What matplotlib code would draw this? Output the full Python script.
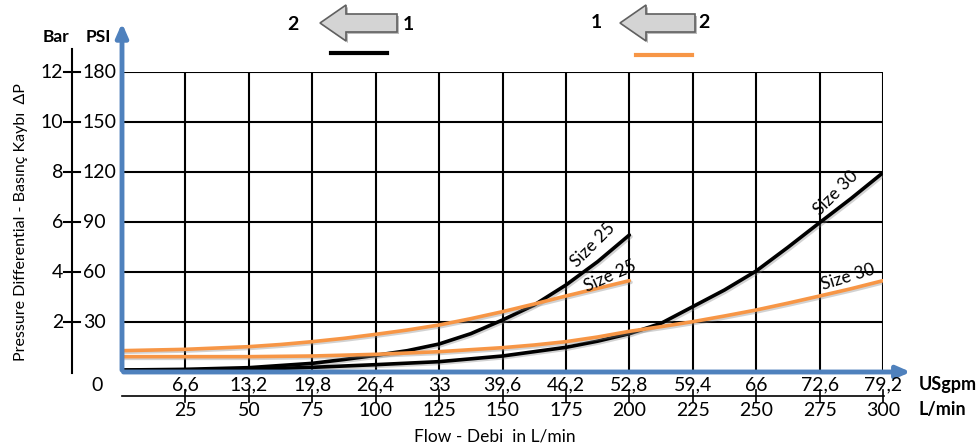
import matplotlib
matplotlib.use("Agg")
import matplotlib.pyplot as plt
import matplotlib.patheffects as pe
from matplotlib.patches import Polygon

plt.rcParams['font.family'] = ['Lato', 'DejaVu Sans']

# flow in L/min and matching US gpm labels
lpm = [25, 50, 75, 100, 125, 150, 175, 200, 225, 250, 275, 300]
gpm = ['6,6', '13,2', '19,8', '26,4', '33', '39,6', '46,2', '52,8', '59,4', '66', '72,6', '79,2']
psi_ticks = [30, 60, 90, 120, 150, 180]
bar_ticks = ['2', '4', '6', '8', '10', '12']

# curves (L/min, PSI)
blk25_x = [0, 25, 50, 75, 87.5, 100, 112.5, 125, 137.5, 150, 162.5, 175, 187.5, 200]
blk25_y = [1.2, 1.6, 2.6, 5.2, 7.5, 10, 12.8, 16.8, 23, 31.2, 40.2, 52.2, 66.2, 82.2]
blk30_x = [0, 25, 50, 75, 100, 125, 150, 175, 187.5, 200, 212.5, 225, 237.5, 250,
           262.5, 275, 287.5, 300]
blk30_y = [1.0, 1.2, 1.6, 2.8, 4.4, 6.2, 9.6, 14.8, 18.5, 23, 29.2, 39.2, 49.2, 60.6,
           74.8, 89.6, 104.2, 119.6]
org25_x = [0, 25, 50, 62.5, 75, 87.5, 100, 112.5, 125, 137.5, 150, 162.5, 175, 187.5, 200]
org25_y = [12.8, 13.6, 15.2, 16.5, 18.2, 20.2, 22.6, 25.2, 28.2, 32, 36.2, 40.8, 45.6, 50.2, 54.8]
org30_x = [0, 25, 50, 75, 100, 125, 150, 162.5, 175, 187.5, 200, 212.5, 225, 237.5, 250,
           262.5, 275, 287.5, 300]
org30_y = [9.2, 9.2, 9.2, 9.6, 10.6, 12.2, 14.6, 16.2, 18.2, 21, 24.4, 27.2, 30.2, 33.6, 37.2,
           41.3, 45.6, 50, 54.8]

BLUE = '#4f81bd'
ORANGE = '#f79646'
W, H = 979, 448

fig = plt.figure(figsize=(W / 100, H / 100), dpi=100)
ax = fig.add_axes([122 / W, 76 / H, 761 / W, 300 / H])
ax.set_xlim(0, 300)
ax.set_ylim(0, 180)
ax.axis('off')

# grid
for x in lpm:
    ax.plot([x, x], [0, 180], color='black', lw=1.5, zorder=1)
for y in psi_ticks:
    ax.plot([0, 300], [y, y], color='black', lw=1.5, zorder=1)

shadow = [pe.SimpleLineShadow(offset=(1.2, -1.2), shadow_color='gray', alpha=0.35), pe.Normal()]
for xs, ys, c in [(blk25_x, blk25_y, 'black'), (blk30_x, blk30_y, 'black'),
                  (org25_x, org25_y, ORANGE), (org30_x, org30_y, ORANGE)]:
    ax.plot(xs, ys, color=c, lw=2.6, zorder=3, solid_capstyle='round',
            solid_joinstyle='round', path_effects=shadow)

ax.text(185.7, 76.2, 'Size 25', rotation=45, fontsize=12.5, ha='center', va='center', zorder=4)
ax.text(192.4, 57.2, 'Size 25', rotation=24, fontsize=12.5, ha='center', va='center', zorder=4)
ax.text(281.5, 107.2, 'Size 30', rotation=45, fontsize=12.5, ha='center', va='center', zorder=4)
ax.text(286.3, 57.2, 'Size 30', rotation=17, fontsize=12.5, ha='center', va='center', zorder=4)

# blue axes arrows
ax.annotate('', xy=(0, 211), xytext=(0, -0.5), annotation_clip=False,
            arrowprops=dict(arrowstyle='-|>,head_width=0.35,head_length=0.8', color=BLUE, lw=3.5))
ax.annotate('', xy=(312, 0), xytext=(-0.5, 0), annotation_clip=False,
            arrowprops=dict(arrowstyle='-|>,head_width=0.35,head_length=0.8', color=BLUE, lw=3.5))

# left Bar / PSI scale
lx = -19.7
ax.plot([lx, lx], [-0.5, 194], color='black', lw=1.5, clip_on=False)
for y, b in zip(psi_ticks, bar_ticks):
    ax.plot([lx - 3.2, lx + 3.2], [y, y], color='black', lw=1.5, clip_on=False)
    ax.text(lx - 3.6, y, b, ha='right', va='center', fontsize=14)
    ax.text(lx + 4.3, y, str(y), ha='left', va='center', fontsize=14)
ax.text(-26, 201, 'Bar', ha='center', va='center', fontsize=12.5, fontweight='bold')
ax.text(-9.5, 201, 'PSI', ha='center', va='center', fontsize=12.5, fontweight='bold')
ax.text(-9.7, -8, '0', ha='center', va='center', fontsize=14)
ax.text(-40, 90, 'Pressure Differential - Basınç Kaybı  ΔP', rotation=90,
        ha='center', va='center', fontsize=11.5)

# bottom double scale
ax.plot([0, 300.5], [-14.4, -14.4], color='black', lw=1.2, clip_on=False)
for x, g in zip(lpm, gpm):
    ax.plot([x, x], [-11, -18], color='black', lw=1.2, clip_on=False)
    ax.text(x, -7.8, g, ha='center', va='center', fontsize=14)
    ax.text(x, -22.8, str(x), ha='center', va='center', fontsize=14)
ax.text(314, -7.5, 'USgpm', ha='left', va='center', fontsize=13, fontweight='bold')
ax.text(314, -22.5, 'L/min', ha='left', va='center', fontsize=13, fontweight='bold')
ax.text(147, -38.5, 'Flow - Debi  in L/min', ha='center', va='center', fontsize=12.5)


# top direction legend
def px(x, y):
    return (x / W, 1 - y / H)


def left_arrow(x0, x1, yc):
    head = 26
    pts = [(x0, yc), (x0 + head, yc - 18), (x0 + head, yc - 9), (x1, yc - 9),
           (x1, yc + 9), (x0 + head, yc + 9), (x0 + head, yc + 18)]
    sh = Polygon([px(x + 2, y + 2) for x, y in pts], closed=True,
                 transform=fig.transFigure, facecolor='#bbbbbb', edgecolor='none')
    poly = Polygon([px(x, y) for x, y in pts], closed=True, transform=fig.transFigure,
                   facecolor='#d4d4d4', edgecolor='#606060', lw=1.2)
    fig.patches.append(sh)
    fig.patches.append(poly)


left_arrow(320, 397, 23)
left_arrow(620, 695, 23)
fig.text(*px(293, 24), '2', ha='center', va='center', fontsize=14, fontweight='bold')
fig.text(*px(408, 24), '1', ha='center', va='center', fontsize=14, fontweight='bold')
fig.text(*px(596, 22), '1', ha='center', va='center', fontsize=14, fontweight='bold')
fig.text(*px(704, 22), '2', ha='center', va='center', fontsize=14, fontweight='bold')
fig.lines.append(plt.Line2D([331 / W, 387 / W], [1 - 53 / H] * 2, color='black', lw=3,
                            transform=fig.transFigure))
fig.lines.append(plt.Line2D([636 / W, 692 / W], [1 - 55 / H] * 2, color=ORANGE, lw=3,
                            transform=fig.transFigure))

fig.savefig('out.png', dpi=100)
